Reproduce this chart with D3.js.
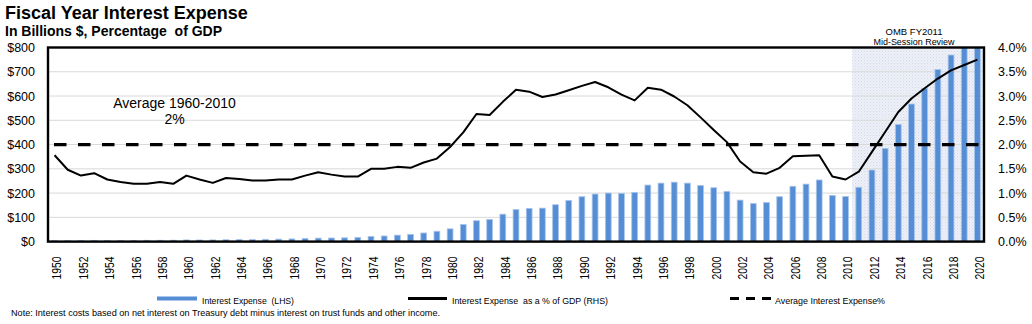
<!DOCTYPE html>
<html>
<head>
<meta charset="utf-8">
<script src="https://cdn.jsdelivr.net/npm/d3@7/dist/d3.min.js"></script>
<style>
  html, body { margin: 0; padding: 0; background: #fff; }
  svg { display: block; font-family: "Liberation Sans", Arial, sans-serif; }
</style>
</head>
<body>
<svg id="chart" width="1032" height="324"></svg>
<script>
// Fiscal years shown on the category axis
const years = d3.range(1950, 2021);

// Net interest expense, billions of dollars (left axis)
const interestExpense = [
  4.8, 4.7, 4.7, 5.2, 4.8, 4.9, 5.1, 5.4, 5.6, 5.8,
  6.9, 6.7, 6.9, 7.7, 8.2, 8.6, 9.4, 10.3, 11.1, 12.7,
  14.4, 14.8, 15.5, 17.3, 21.4, 23.2, 26.7, 29.9, 35.5, 42.6,
  52.5, 71, 86, 91, 113, 132, 137, 138, 152, 170,
  185, 196, 200, 199, 203, 233, 241, 245, 241, 231,
  222, 207, 171, 157, 161, 185, 228, 237, 254, 190,
  186, 224, 295, 384, 483, 567, 631, 709, 769, 830, 880
];

// Interest expense as a percentage of GDP (right axis)
const pctGDP = [
  1.78, 1.48, 1.36, 1.41, 1.28, 1.23, 1.19, 1.19, 1.23, 1.19,
  1.36, 1.28, 1.21, 1.31, 1.29, 1.26, 1.26, 1.28, 1.28, 1.36,
  1.43, 1.38, 1.34, 1.34, 1.50, 1.50, 1.54, 1.52, 1.63, 1.71,
  1.95, 2.25, 2.63, 2.61, 2.88, 3.13, 3.09, 2.98, 3.03, 3.12,
  3.21, 3.29, 3.18, 3.03, 2.91, 3.17, 3.13, 2.99, 2.81, 2.56,
  2.30, 2.05, 1.65, 1.43, 1.40, 1.52, 1.76, 1.77, 1.78, 1.34,
  1.28, 1.44, 1.85, 2.26, 2.67, 2.95, 3.16, 3.36, 3.53, 3.64, 3.75
];

// Average interest expense 1960-2010, % of GDP
const avgPct = 2.0;

// First projected year (OMB FY2011 Mid-Session Review)
const projectionStart = 2011;

// Axis tick values
const leftTicks = [0, 100, 200, 300, 400, 500, 600, 700, 800];
const rightTicks = [0, 0.5, 1.0, 1.5, 2.0, 2.5, 3.0, 3.5, 4.0];
const xTickYears = years.filter(y => y % 2 === 0);

const rows = years.map((y, i) => ({ year: y, expense: interestExpense[i], pct: pctGDP[i] }));

const svg = d3.select("#chart");
const plot = { left: 48, right: 984, top: 47.5, bottom: 241.6 };
const barColor = "#558ed5";

const x = d3.scaleBand()
  .domain(years)
  .range([plot.left, plot.right])
  .paddingInner(0.56)
  .paddingOuter(0.28);
const yL = d3.scaleLinear().domain([0, 800]).range([plot.bottom, plot.top]);
const yR = d3.scaleLinear().domain([0, 4]).range([plot.bottom, plot.top]);
const cx = d => x(d) + x.bandwidth() / 2;

const defs = svg.append("defs");
const pat = defs.append("pattern")
  .attr("id", "projDots").attr("patternUnits", "userSpaceOnUse")
  .attr("width", 3).attr("height", 3);
pat.append("rect").attr("width", 3).attr("height", 3).attr("fill", "#edf0f6");
pat.append("rect").attr("width", 1).attr("height", 1).attr("fill", "#d3dbea");
pat.append("rect").attr("x", 1.5).attr("y", 1.5).attr("width", 1).attr("height", 1).attr("fill", "#dde3ef");

defs.append("clipPath").attr("id", "plotClip")
  .append("rect")
  .attr("x", plot.left).attr("y", plot.top)
  .attr("width", plot.right - plot.left).attr("height", plot.bottom - plot.top);

// Projection shading
const shadeX = x(projectionStart) - x.step() * x.paddingInner() / 2;
svg.append("rect")
  .attr("x", shadeX).attr("y", plot.top)
  .attr("width", plot.right - shadeX).attr("height", plot.bottom - plot.top)
  .attr("fill", "url(#projDots)");

// Horizontal gridlines
svg.append("g")
  .selectAll("line")
  .data(leftTicks.filter(t => t > 0 && t < 800))
  .join("line")
  .attr("x1", plot.left).attr("x2", plot.right)
  .attr("y1", d => yL(d)).attr("y2", d => yL(d))
  .attr("stroke", "#d9d9d9").attr("stroke-width", 1);

// Interest expense bars
svg.append("g")
  .attr("clip-path", "url(#plotClip)")
  .selectAll("rect")
  .data(rows)
  .join("rect")
  .attr("x", d => x(d.year))
  .attr("width", x.bandwidth())
  .attr("y", d => yL(d.expense))
  .attr("height", d => plot.bottom - yL(d.expense))
  .attr("fill", barColor)
  .attr("stroke", "#a9c5ec")
  .attr("stroke-width", 0.8);

// Average line (dashed)
svg.append("line")
  .attr("x1", plot.left).attr("x2", plot.right)
  .attr("y1", yR(avgPct)).attr("y2", yR(avgPct))
  .attr("stroke", "#000").attr("stroke-width", 3.2)
  .attr("stroke-dasharray", "12.5,11.5")
  .attr("stroke-dashoffset", 18);

// Interest expense as % of GDP
svg.append("path")
  .datum(rows)
  .attr("fill", "none")
  .attr("stroke", "#000")
  .attr("stroke-width", 2)
  .attr("stroke-linejoin", "round")
  .attr("d", d3.line().x(d => cx(d.year)).y(d => yR(d.pct)));

// Plot frame
svg.append("rect")
  .attr("x", plot.left).attr("y", plot.top)
  .attr("width", plot.right - plot.left).attr("height", plot.bottom - plot.top)
  .attr("fill", "none").attr("stroke", "#000").attr("stroke-width", 2.4);

// Left axis
const gL = svg.append("g")
  .attr("transform", `translate(${plot.left},0)`)
  .call(d3.axisLeft(yL).tickValues(leftTicks).tickSize(0).tickPadding(13).tickFormat(d => "$" + d));
gL.select(".domain").remove();
gL.selectAll("text").attr("font-size", 12.5).attr("fill", "#000").attr("font-family", "Liberation Sans, Arial, sans-serif");

// Right axis
const gR = svg.append("g")
  .attr("transform", `translate(${plot.right},0)`)
  .call(d3.axisRight(yR).tickValues(rightTicks).tickSize(0).tickPadding(14).tickFormat(d => d.toFixed(1) + "%"));
gR.select(".domain").remove();
gR.selectAll("text").attr("font-size", 12.5).attr("fill", "#000").attr("font-family", "Liberation Sans, Arial, sans-serif");

// Bottom axis with rotated year labels
const gX = svg.append("g")
  .attr("transform", `translate(0,${plot.bottom})`)
  .call(d3.axisBottom(x).tickValues(xTickYears).tickSize(0));
gX.select(".domain").remove();
gX.selectAll("text")
  .attr("font-size", 12.5)
  .attr("fill", "#000")
  .attr("font-family", "Liberation Sans, Arial, sans-serif")
  .attr("transform", "rotate(-90)")
  .attr("x", -15)
  .attr("y", 2.5)
  .attr("dy", "0.35em")
  .attr("text-anchor", "end")
  .attr("textLength", 23)
  .attr("lengthAdjust", "spacingAndGlyphs");

// Titles
svg.append("text").attr("x", 5).attr("y", 18.5)
  .attr("font-size", 18).attr("font-weight", "bold")
  .text("Fiscal Year Interest Expense");
svg.append("text").attr("x", 5).attr("y", 36)
  .attr("font-size", 14).attr("font-weight", "bold")
  .attr("xml:space", "preserve")
  .text("In Billions $, Percentage  of GDP");

// Average annotation
svg.append("text").attr("x", 174.5).attr("y", 107.5)
  .attr("font-size", 14).attr("text-anchor", "middle")
  .text("Average 1960-2010");
svg.append("text").attr("x", 174.5).attr("y", 124)
  .attr("font-size", 14).attr("text-anchor", "middle")
  .text("2%");

// Projection label
svg.append("text").attr("x", 914).attr("y", 35)
  .attr("font-size", 9.5).attr("text-anchor", "middle")
  .text("OMB FY2011");
svg.append("text").attr("x", 914).attr("y", 45)
  .attr("font-size", 9.5).attr("text-anchor", "middle")
  .attr("textLength", 81).attr("lengthAdjust", "spacingAndGlyphs")
  .text("Mid-Session Review");

// Legend
const legend = svg.append("g");
legend.append("rect").attr("x", 157).attr("y", 296.5).attr("width", 40).attr("height", 4).attr("fill", barColor);
legend.append("line").attr("x1", 408).attr("x2", 447).attr("y1", 298.5).attr("y2", 298.5)
  .attr("stroke", "#000").attr("stroke-width", 3);
legend.append("line").attr("x1", 730).attr("x2", 771).attr("y1", 298.5).attr("y2", 298.5)
  .attr("stroke", "#000").attr("stroke-width", 3).attr("stroke-dasharray", "9,7");
const legendItems = [
  { x: 202, w: 92, t: "Interest Expense  (LHS)" },
  { x: 452, w: 156, t: "Interest Expense  as a % of GDP (RHS)" },
  { x: 775, w: 110, t: "Average Interest Expense%" }
];
legend.selectAll("text.lg")
  .data(legendItems)
  .join("text")
  .attr("class", "lg")
  .attr("x", d => d.x).attr("y", 303.5)
  .attr("font-size", 9.5)
  .attr("xml:space", "preserve")
  .attr("textLength", d => d.w).attr("lengthAdjust", "spacingAndGlyphs")
  .text(d => d.t);

// Footnote
svg.append("text").attr("x", 11).attr("y", 315.5)
  .attr("font-size", 9.5)
  .attr("textLength", 429).attr("lengthAdjust", "spacingAndGlyphs")
  .text("Note: Interest costs based on net interest on Treasury debt minus interest on trust funds and other income.");
</script>
</body>
</html>
